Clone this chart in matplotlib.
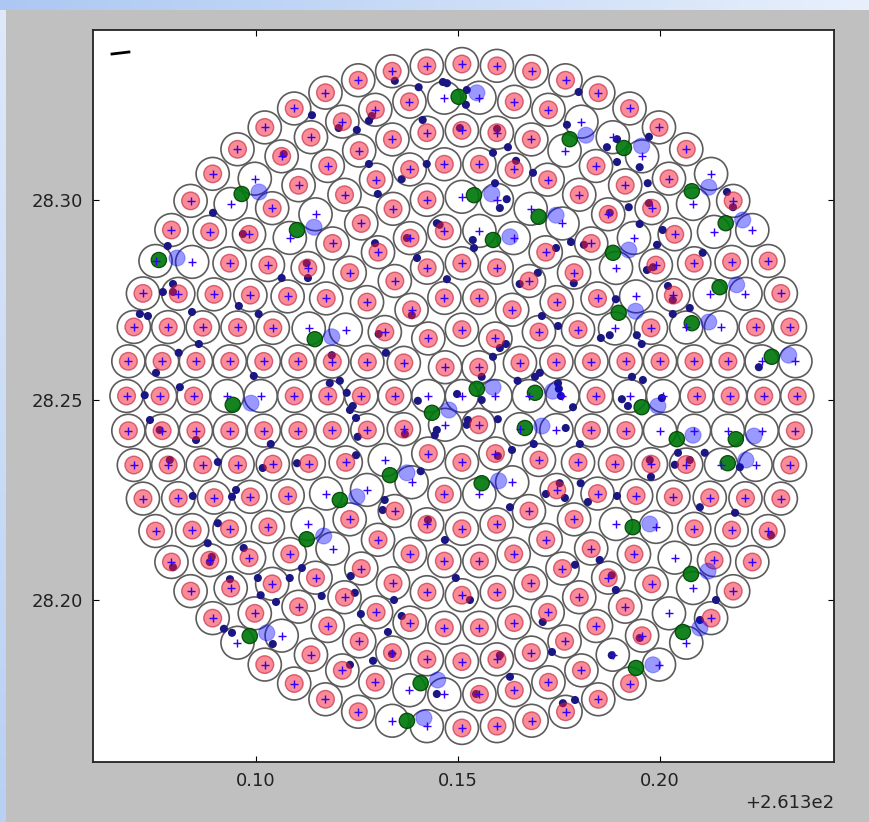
import numpy as np
import matplotlib.pyplot as plt
from matplotlib.patches import Circle
from matplotlib.collections import PatchCollection

# all positions in 1e-3 deg, offsets added below
X0, Y0 = 261.3, 28.0

# fibre layout: concentric rings around field centre
ring_n = [1, 6, 12, 18, 24, 30, 36, 42, 48, 54, 60]
ring_r = [0.0, 8.3, 16.6, 24.9, 33.2, 41.5, 49.8, 58.1, 66.4, 74.7, 83.0]
cen_x, cen_y = 151.0, 251.0

# fibres that are in use (no pink parking disk), approx. positions
used_x = [99.8, 93.8, 115.1, 108.7, 75.5, 84.4, 113.4, 122.5, 147.0, 155.7,
          180.9, 177.0, 188.9, 196.0, 213.4, 208.9, 214.1, 223.5, 151.5, 160.4,
          168.6, 176.5, 155.7, 164.1, 194.0, 189.6, 212.9, 222.0, 194.8, 189.4,
          215.8, 206.4, 234.2, 225.0, 93.1, 101.5,
          142.8, 151.0, 159.3, 167.6, 175.9, 146.8, 165.3, 174.3,
          200.7, 208.9, 217.3, 226.0, 216.8, 224.3, 192.4, 200.7,
          131.9, 138.9, 155.4, 163.6, 138.1, 147.0, 133.9, 142.6, 95.5, 106.7,
          117.5, 127.5, 112.9, 119.1, 189.1, 199.0, 203.7, 208.2, 202.2, 206.4,
          188.3, 199.7]
used_y = [305.5, 299.0, 296.5, 290.2, 285.5, 284.2, 267.8, 267.5, 325.5, 325.8,
          319.8, 312.5, 315.5, 310.8, 306.5, 299.0, 291.8, 292.2, 300.8, 300.2,
          297.5, 294.0, 292.0, 290.2, 290.2, 282.8, 276.8, 276.2, 275.8, 267.8,
          268.0, 268.2, 259.2, 259.8, 250.8, 250.8,
          250.8, 251.0, 251.0, 251.0, 251.0, 243.8, 242.6, 242.5,
          242.0, 242.2, 242.0, 242.0, 233.8, 233.8, 251.0, 251.0,
          235.0, 229.2, 226.2, 229.2, 177.0, 175.8, 169.2, 168.0, 188.8, 190.5,
          226.4, 227.2, 218.8, 212.5, 218.8, 218.0, 210.2, 202.5, 196.2, 188.8,
          185.8, 183.2]

# green = fibre position, light blue = second fibre
green_x = [96.5, 110.2, 76.0, 114.6, 150.2, 177.7, 191.1, 207.9, 216.3, 154.0,
           170.0, 158.7, 188.4, 214.8, 189.8, 207.9, 227.7, 94.3, 154.7, 169.1,
           195.5, 143.6, 166.6, 204.2, 218.8, 216.8, 133.2, 155.9, 120.8, 112.6,
           193.3, 207.7, 98.5, 205.7, 194.1, 140.8, 137.4]
green_y = [301.5, 292.5, 285.0, 265.2, 325.8, 315.2, 313.0, 302.2, 294.2, 301.2,
           295.8, 290.0, 286.8, 278.2, 271.8, 269.2, 260.8, 248.8, 252.8, 251.8,
           248.2, 246.8, 243.0, 240.2, 240.2, 234.2, 231.2, 229.2, 225.0, 215.2,
           218.2, 206.5, 191.0, 192.0, 183.0, 179.2, 169.8]
blue_x = [100.8, 114.4, 80.5, 118.8, 154.7, 181.7, 195.5, 212.1, 220.5, 158.4,
          174.3, 162.9, 192.3, 219.0, 194.0, 212.1, 231.9, 98.8, 158.7, 173.5,
          199.5, 147.8, 170.8, 208.2, 223.3, 221.3, 137.4, 160.1, 125.0, 116.8,
          197.5, 211.9, 102.7, 209.9, 198.3, 145.0, 141.6]
blue_y = [302.0, 293.2, 285.5, 265.8, 326.8, 316.2, 313.5, 303.2, 295.0, 301.5,
          296.2, 290.8, 287.5, 278.8, 272.2, 269.5, 261.2, 249.2, 253.2, 252.2,
          248.5, 247.5, 243.5, 241.2, 241.0, 235.0, 231.8, 229.8, 225.8, 216.0,
          219.0, 207.2, 191.8, 193.0, 183.8, 180.0, 170.5]

# targets
tgt_x = [134.4, 140.3, 146.3, 147.3, 152.2, 113.9, 128.7, 128.0, 120.5, 125.0,
         141.3, 150.5, 106.9, 128.0, 136.1, 142.3, 130.2, 89.4, 96.8, 144.8,
         145.5, 129.5, 137.4, 78.2, 139.9, 112.6, 112.9, 106.4, 147.3, 79.5,
         77.0, 79.5, 71.3, 73.3, 84.2, 95.8, 100.7, 138.6, 130.4, 132.2,
         118.8, 85.9, 80.9, 75.3, 99.5, 81.2, 72.5, 118.3, 120.8, 122.5,
         124.0, 140.1, 149.8, 152.0, 179.9, 177.0, 162.4, 158.7, 164.4, 168.6,
         186.9, 189.4, 189.4, 197.3, 195.0, 197.0, 159.2, 160.4, 162.1, 159.7,
         216.6, 218.1, 192.3, 197.3, 187.6, 195.0, 200.7, 199.3, 178.0, 181.2,
         174.3, 153.7, 154.0, 210.6, 198.3, 196.8, 169.8, 165.3, 178.7, 202.0,
         203.2, 207.4, 203.2, 189.1, 170.8, 174.8, 185.4, 187.6, 194.3, 195.5,
         161.9, 160.4, 158.7, 224.5, 170.3, 169.1, 174.8, 175.0, 164.8, 155.9,
         155.9, 193.1, 195.8, 190.6, 192.1, 178.5,
         144.8, 144.3, 152.5, 152.2, 159.9, 175.5, 176.7, 180.2, 168.8, 163.4,
         140.8, 131.9, 131.4, 162.9, 171.8, 175.2, 176.5, 180.4, 182.2, 136.9,
         159.9, 204.5, 203.7, 211.1, 219.8, 200.5, 197.5, 132.7, 129.0, 133.7,
         144.8, 162.9, 173.3, 176.0, 154.5, 123.3, 93.6, 100.5, 101.2, 105.0,
         92.1, 94.1, 104.2, 79.5, 88.6,
         73.8, 76.2, 85.2, 78.7, 90.6, 95.1, 94.1, 84.4, 90.6, 88.1,
         89.1, 97.0, 103.7, 101.7, 110.2, 124.8, 123.3, 124.8, 125.2, 108.4,
         111.4, 116.3, 123.5, 124.5, 126.0, 134.2, 136.1, 142.6, 146.8, 149.5,
         153.0, 171.0, 185.1, 188.1, 189.1, 179.0, 189.4, 197.8, 207.4, 218.6,
         227.5, 209.9, 195.0, 188.1, 209.9, 213.9, 179.0, 160.4]
tgt_y = [329.8, 328.2, 329.5, 329.2, 327.5, 321.2, 321.0, 319.8, 318.0, 317.5,
         320.0, 318.0, 311.5, 309.0, 305.2, 309.0, 301.5, 296.8, 291.5, 294.2,
         293.8, 289.2, 290.5, 288.5, 285.5, 284.2, 280.5, 280.5, 280.2, 279.0,
         277.0, 277.0, 271.5, 271.0, 272.0, 273.5, 271.5, 271.2, 266.5, 261.8,
         261.2, 264.0, 261.8, 256.8, 256.0, 253.2, 251.2, 254.2, 254.8, 251.8,
         248.5, 249.8, 251.5, 323.8, 327.0, 318.8, 313.2, 311.8, 309.8, 306.8,
         313.2, 309.5, 315.2, 315.8, 308.2, 304.2, 304.2, 298.0, 300.2, 317.8,
         302.0, 298.2, 298.2, 299.2, 296.8, 294.0, 292.5, 288.8, 289.5, 288.8,
         288.0, 290.0, 288.0, 286.8, 283.2, 282.5, 281.8, 279.0, 279.2, 278.5,
         275.0, 273.0, 271.5, 275.2, 271.0, 268.5, 265.5, 266.2, 266.2, 264.0,
         264.0, 263.0, 260.8, 258.2, 256.8, 255.8, 254.2, 252.8, 254.8, 255.8,
         250.0, 255.8, 255.0, 250.2, 248.5, 248.2,
         242.5, 241.2, 245.0, 243.8, 245.2, 251.0, 243.0, 239.0, 239.0, 237.5,
         232.2, 225.0, 222.5, 223.2, 226.5, 229.2, 225.5, 229.2, 224.5, 241.5,
         236.0, 236.8, 233.8, 236.8, 233.2, 250.5, 235.0, 192.0, 184.8, 186.5,
         176.5, 180.8, 187.0, 174.2, 176.5, 183.8, 205.2, 205.5, 201.2, 199.5,
         192.8, 191.8, 189.0, 208.2, 209.5,
         245.0, 242.5, 240.0, 235.0, 234.5, 227.5, 225.8, 226.0, 219.2, 214.2,
         210.8, 213.0, 239.0, 233.0, 234.2, 236.2, 247.5, 245.5, 240.8, 205.5,
         208.0, 201.0, 206.0, 201.8, 196.5, 200.0, 196.0, 220.0, 215.0, 205.5,
         200.0, 194.5, 210.0, 206.2, 202.5, 208.8, 226.0, 230.8, 235.0, 221.8,
         216.2, 223.2, 190.5, 186.2, 195.0, 200.0, 175.0, 186.2]

# short black mark top left
mark_x = [64.4, 68.6]
mark_y = [336.5, 337.0]

x_ticks = [261.40, 261.45, 261.50]
y_ticks = [28.20, 28.25, 28.30]

# ---- fibre centres
fx, fy = [], []
for n, r in zip(ring_n, ring_r):
    a = np.arange(n) * 2 * np.pi / n
    fx += list(cen_x + r * np.cos(a))
    fy += list(cen_y + r * np.sin(a))
fx = np.array(fx)
fy = np.array(fy)

used = np.zeros(len(fx), bool)
for ux, uy in zip(used_x, used_y):
    used[np.argmin((fx - ux)**2 + (fy - uy)**2)] = True

FX = X0 + fx / 1000
FY = Y0 + fy / 1000

fig = plt.figure(figsize=(8.69, 8.22), dpi=100, facecolor='#c0c0c0')
# screenshot border (slide background)
top = np.linspace([172, 200, 242], [232, 240, 252], 869)[None, :, :].repeat(10, 0) / 255
left = np.linspace([222, 233, 250], [185, 208, 243], 812)[:, None, :].repeat(6, 1) / 255
fig.figimage(top, xo=0, yo=812, zorder=0)
fig.figimage(left, xo=0, yo=0, zorder=0)

ax = fig.add_axes([93/869, 60/822, 741/869, 732/822])

ax.add_collection(PatchCollection([Circle((x, y), 0.0041) for x, y in zip(FX, FY)],
                                  facecolor='none', edgecolor='0.36', linewidth=1.2, zorder=1))

ax.scatter(X0 + np.array(tgt_x)/1000, Y0 + np.array(tgt_y)/1000, s=34,
           color='#1a1683', edgecolor='none', zorder=2)

ax.add_collection(PatchCollection([Circle((x, y), 0.0022) for x, y in zip(FX[~used], FY[~used])],
                                  facecolor=(0.97, 0.1, 0.2, 0.5), edgecolor=(0.75, 0.1, 0.2, 0.6),
                                  linewidth=1.0, zorder=3))

ax.add_collection(PatchCollection([Circle((X0 + x/1000, Y0 + y/1000), 0.0020) for x, y in zip(blue_x, blue_y)],
                                  facecolor=(0, 0, 1, 0.4), edgecolor=(0, 0, 1, 0.3), linewidth=0.8, zorder=4))
ax.add_collection(PatchCollection([Circle((X0 + x/1000, Y0 + y/1000), 0.0019) for x, y in zip(green_x, green_y)],
                                  facecolor=(0, 0.47, 0.05, 0.92), edgecolor=(0, 0.25, 0, 0.9), linewidth=0.9, zorder=5))

ax.plot(FX, FY, '+', color='#3300ff', markersize=6, mew=1.0, zorder=6)

ax.plot(X0 + np.array(mark_x)/1000, Y0 + np.array(mark_y)/1000, color='k', lw=2, zorder=6)

ax.set_xlim(X0 + 0.0597, X0 + 0.2431)
ax.set_ylim(Y0 + 0.1595, Y0 + 0.3425)
ax.set_xticks(x_ticks)
ax.set_yticks(y_ticks)
fmt = ax.xaxis.get_major_formatter()
fmt.set_useOffset(261.3)
ax.yaxis.get_major_formatter().set_useOffset(False)
ax.tick_params(direction='in', top=True, right=True, length=4, width=0.8,
               labelsize=13, labelcolor='#222222', pad=7)
ax.xaxis.get_offset_text().set_fontsize(13)
ax.xaxis.get_offset_text().set_color('#222222')
for s in ax.spines.values():
    s.set_linewidth(1.3)
    s.set_color('#222222')

fig.savefig('out.png', dpi=100, facecolor=fig.get_facecolor())
